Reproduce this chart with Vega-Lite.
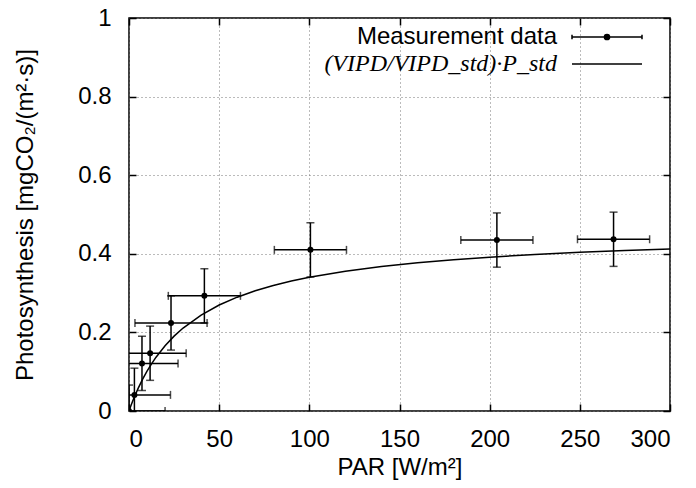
{
  "$schema": "https://vega.github.io/schema/vega-lite/v6.json",
  "width": 541,
  "height": 393,
  "autosize": "none",
  "padding": {"left": 129, "top": 18, "right": 26, "bottom": 77},
  "background": "white",
  "config": {
    "font": "Liberation Sans",
    "view": {"stroke": "black", "strokeWidth": 1.5},
    "axis": {
      "labelFont": "Liberation Sans",
      "labelFontSize": 24,
      "labelColor": "black",
      "titleFont": "Liberation Sans",
      "titleFontSize": 24,
      "titleFontWeight": "normal",
      "titleColor": "black",
      "domain": false,
      "tickColor": "black",
      "tickWidth": 1.5,
      "tickSize": -7,
      "gridColor": "#777777",
      "gridDash": [1, 3],
      "gridWidth": 1
    }
  },
  "datasets": {
    "meas": [
      {"series": "Measurement data", "par": 0, "p": 0, "xlo": -20, "xhi": 20, "ylo": -0.066, "yhi": 0.066},
      {"series": "Measurement data", "par": 3, "p": 0.041, "xlo": -17, "xhi": 23, "ylo": -0.027, "yhi": 0.109},
      {"series": "Measurement data", "par": 7.2, "p": 0.121, "xlo": -12.8, "xhi": 27.2, "ylo": 0.052, "yhi": 0.19},
      {"series": "Measurement data", "par": 11.7, "p": 0.147, "xlo": -8.3, "xhi": 31.7, "ylo": 0.078, "yhi": 0.216},
      {"series": "Measurement data", "par": 23.3, "p": 0.224, "xlo": 3.3, "xhi": 43.3, "ylo": 0.155, "yhi": 0.293},
      {"series": "Measurement data", "par": 41.8, "p": 0.293, "xlo": 21.8, "xhi": 61.8, "ylo": 0.224, "yhi": 0.362},
      {"series": "Measurement data", "par": 100.6, "p": 0.41, "xlo": 80.6, "xhi": 120.6, "ylo": 0.341, "yhi": 0.479},
      {"series": "Measurement data", "par": 204, "p": 0.435, "xlo": 184, "xhi": 224, "ylo": 0.366, "yhi": 0.504},
      {"series": "Measurement data", "par": 268.7, "p": 0.437, "xlo": 248.7, "xhi": 288.7, "ylo": 0.368, "yhi": 0.506}
    ],
    "fit": [
      {"par": 0, "p": 0},
      {"par": 1, "p": 0.0126},
      {"par": 2, "p": 0.0246},
      {"par": 3, "p": 0.0359},
      {"par": 5, "p": 0.0569},
      {"par": 7.5, "p": 0.0804},
      {"par": 10, "p": 0.1013},
      {"par": 12.5, "p": 0.1201},
      {"par": 15, "p": 0.1369},
      {"par": 20, "p": 0.1661},
      {"par": 25, "p": 0.1905},
      {"par": 30, "p": 0.2111},
      {"par": 40, "p": 0.2442},
      {"par": 50, "p": 0.2696},
      {"par": 60, "p": 0.2896},
      {"par": 70, "p": 0.3059},
      {"par": 80, "p": 0.3193},
      {"par": 90, "p": 0.3306},
      {"par": 100, "p": 0.3402},
      {"par": 120, "p": 0.3558},
      {"par": 140, "p": 0.3677},
      {"par": 160, "p": 0.3773},
      {"par": 180, "p": 0.3851},
      {"par": 200, "p": 0.3915},
      {"par": 225, "p": 0.3982},
      {"par": 250, "p": 0.4037},
      {"par": 275, "p": 0.4083},
      {"par": 300, "p": 0.4122}
    ]
  },
  "resolve": {"axis": {"x": "independent", "y": "independent"}},
  "layer": [
    {
      "data": {"name": "fit"},
      "mark": {"type": "line", "color": "black", "strokeWidth": 1.5, "clip": true},
      "encoding": {
        "x": {"field": "par", "type": "quantitative", "scale": {"domain": [0, 300], "nice": false, "zero": false},
          "axis": {"orient": "bottom", "values": [0, 50, 100, 150, 200, 250, 300], "title": "PAR [W/m²]", "labelPadding": 23, "titlePadding": 4, "grid": true}},
        "y": {"field": "p", "type": "quantitative", "scale": {"domain": [0, 1], "nice": false, "zero": false},
          "axis": {"orient": "left", "values": [0, 0.2, 0.4, 0.6, 0.8, 1], "format": ".1~f", "title": "Photosynthesis [mgCO₂/(m²·s)]", "labelPadding": 25, "titlePadding": 40, "grid": true}}
      }
    },
    {
      "data": {"name": "meas"},
      "mark": {"type": "rule", "color": "black", "strokeWidth": 1.5, "clip": true},
      "encoding": {
        "x": {"field": "xlo", "type": "quantitative",
          "axis": {"orient": "top", "values": [0, 50, 100, 150, 200, 250, 300], "labels": false, "title": null, "grid": false}},
        "x2": {"field": "xhi"},
        "y": {"field": "p", "type": "quantitative",
          "axis": {"orient": "right", "values": [0, 0.2, 0.4, 0.6, 0.8, 1], "labels": false, "title": null, "grid": false}}
      }
    },
    {
      "data": {"name": "meas"},
      "mark": {"type": "rule", "color": "black", "strokeWidth": 1.5, "clip": true},
      "encoding": {
        "x": {"field": "par", "type": "quantitative", "axis": null},
        "y": {"field": "ylo", "type": "quantitative", "axis": null},
        "y2": {"field": "yhi"}
      }
    },
    {
      "data": {"name": "meas"},
      "mark": {"type": "tick", "orient": "vertical", "color": "black", "thickness": 1.5, "size": 8, "clip": true},
      "encoding": {
        "x": {"field": "xlo", "type": "quantitative", "axis": null},
        "y": {"field": "p", "type": "quantitative", "axis": null}
      }
    },
    {
      "data": {"name": "meas"},
      "mark": {"type": "tick", "orient": "vertical", "color": "black", "thickness": 1.5, "size": 8, "clip": true},
      "encoding": {
        "x": {"field": "xhi", "type": "quantitative", "axis": null},
        "y": {"field": "p", "type": "quantitative", "axis": null}
      }
    },
    {
      "data": {"name": "meas"},
      "mark": {"type": "tick", "orient": "horizontal", "color": "black", "thickness": 1.5, "size": 8, "clip": true},
      "encoding": {
        "x": {"field": "par", "type": "quantitative", "axis": null},
        "y": {"field": "ylo", "type": "quantitative", "axis": null}
      }
    },
    {
      "data": {"name": "meas"},
      "mark": {"type": "tick", "orient": "horizontal", "color": "black", "thickness": 1.5, "size": 8, "clip": true},
      "encoding": {
        "x": {"field": "par", "type": "quantitative", "axis": null},
        "y": {"field": "yhi", "type": "quantitative", "axis": null}
      }
    },
    {
      "data": {"name": "meas"},
      "mark": {"type": "circle", "color": "black", "size": 36, "opacity": 1, "clip": true},
      "encoding": {
        "x": {"field": "par", "type": "quantitative", "axis": null},
        "y": {"field": "p", "type": "quantitative", "axis": null}
      }
    },
    {
      "data": {"name": "meas"},
      "mark": {"type": "point", "opacity": 0, "filled": false, "color": "black", "strokeWidth": 1.5},
      "encoding": {
        "x": {"field": "par", "type": "quantitative", "axis": null},
        "y": {"field": "p", "type": "quantitative", "axis": null},
        "shape": {
          "field": "series", "type": "nominal",
          "scale": {
            "domain": ["Measurement data", "(VIPD/VIPD_std)·P_std"],
            "range": [
              "M-3.5,0H3.5M-3.5,-0.22V0.22M3.5,-0.22V0.22M0.26,0A0.26,0.26,0,1,1,-0.26,0A0.26,0.26,0,1,1,0.26,0ZM0.16,0A0.16,0.16,0,1,1,-0.16,0A0.16,0.16,0,1,1,0.16,0ZM0.07,0A0.07,0.07,0,1,1,-0.07,0A0.07,0.07,0,1,1,0.07,0Z",
              "M-3.5,0H3.5"
            ]
          },
          "legend": {
            "title": null,
            "orient": "none",
            "legendX": 460,
            "legendY": 1,
            "fillColor": "white",
            "padding": 6,
            "symbolSize": 400,
            "symbolStrokeColor": "black",
            "symbolFillColor": "black",
            "symbolStrokeWidth": 1.5,
            "symbolOpacity": 1,
            "labelFontSize": 24,
            "labelColor": "black",
            "labelFont": {"expr": "datum.value === 'Measurement data' ? 'Liberation Sans' : 'Liberation Serif'"},
            "labelFontStyle": {"expr": "datum.value === 'Measurement data' ? 'normal' : 'italic'"},
            "labelAlign": "right",
            "labelOffset": -62,
            "labelLimit": 400,
            "rowPadding": 3
          }
        }
      }
    }
  ]
}
